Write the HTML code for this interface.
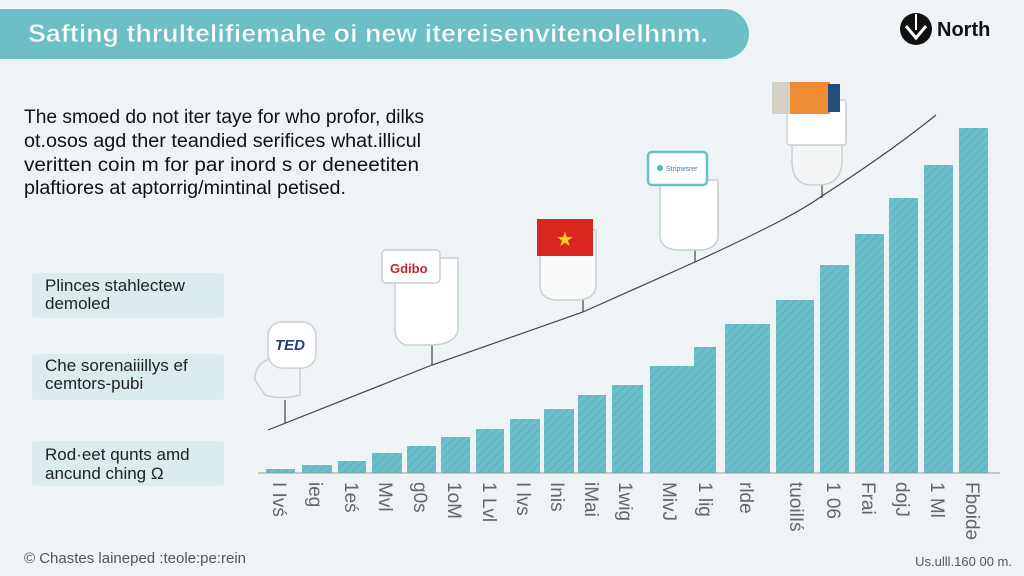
<!DOCTYPE html>
<html><head><meta charset="utf-8"><style>
html,body{margin:0;padding:0;}
body{width:1024px;height:576px;overflow:hidden;background:#eef4f5;font-family:"Liberation Sans",sans-serif;}
</style></head><body>
<svg width="1024" height="576" viewBox="0 0 1024 576" xmlns="http://www.w3.org/2000/svg" style="position:absolute;left:0;top:0">
<defs>
<pattern id="h" width="6" height="6" patternUnits="userSpaceOnUse" patternTransform="rotate(45)">
<rect width="6" height="6" fill="#6cc0ca"/><rect width="2" height="6" fill="#62b6c1"/>
</pattern>
</defs>
<rect width="1024" height="576" fill="#eef4f5"/>
<path d="M0 9 H724 A25 25 0 0 1 724 59 H0 Z" fill="#6cbfc7"/>
<text x="28" y="42" font-size="25" font-weight="bold" fill="#fbfdfd" textLength="680" lengthAdjust="spacingAndGlyphs" stroke="#6cbfc7" stroke-width="0.6">Safting thrultelifiemahe oi new itereisenvitenolelhnm.</text>
<circle cx="916" cy="29" r="16" fill="#111"/>
<path d="M906 26 L916 38 L926 26" stroke="#fff" stroke-width="3" fill="none"/>
<path d="M916 14 V30" stroke="#fff" stroke-width="2"/>
<text x="937" y="36" font-size="20" font-weight="bold" fill="#111">North</text>
<g font-size="19" fill="#111">
<text x="24" y="123" textLength="400" lengthAdjust="spacingAndGlyphs">The smoed do not iter taye for who profor, dilks</text>
<text x="24" y="147" textLength="397" lengthAdjust="spacingAndGlyphs">ot.osos agd ther teandied serifices what.illicul</text>
<text x="24" y="171" textLength="395" lengthAdjust="spacingAndGlyphs">veritten coin m for par inord s or deneetiten</text>
<text x="24" y="194" textLength="322" lengthAdjust="spacingAndGlyphs">plaftiores at aptorrig/mintinal petised.</text>
</g>
<rect x="32" y="273" width="192" height="45" rx="3" fill="#dcebed"/>
<rect x="32" y="354" width="192" height="46" rx="3" fill="#dcebed"/>
<rect x="32" y="441" width="192" height="45" rx="3" fill="#dcebed"/>
<g font-size="17" fill="#222">
<text x="45" y="291">Plinces stahlectew</text><text x="45" y="309">demoled</text>
<text x="45" y="371">Che sorenaiiillys ef</text><text x="45" y="389">cemtors-pubi</text>
<text x="45" y="460">Rod·eet qunts amd</text><text x="45" y="479">ancund ching Ω</text>
</g>
<text x="24" y="563" font-size="15" fill="#555">© Chastes laineped :teole:pe:rein</text>
<text x="1012" y="566" font-size="13" fill="#555" text-anchor="end">Us.ulll.160 00 m.</text>
<g fill="url(#h)">
<rect x="266" y="469" width="29" height="4"/>
<rect x="302" y="465" width="30" height="8"/>
<rect x="338" y="461" width="28" height="12"/>
<rect x="372" y="453" width="30" height="20"/>
<rect x="407" y="446" width="29" height="27"/>
<rect x="441" y="437" width="29" height="36"/>
<rect x="476" y="429" width="28" height="44"/>
<rect x="510" y="419" width="30" height="54"/>
<rect x="544" y="409" width="30" height="64"/>
<rect x="578" y="395" width="28" height="78"/>
<rect x="612" y="385" width="31" height="88"/>
<rect x="650" y="366" width="44" height="107"/>
<rect x="694" y="347" width="22" height="126"/>
<rect x="725" y="324" width="45" height="149"/>
<rect x="776" y="300" width="38" height="173"/>
<rect x="820" y="265" width="29" height="208"/>
<rect x="855" y="234" width="29" height="239"/>
<rect x="889" y="198" width="29" height="275"/>
<rect x="924" y="165" width="29" height="308"/>
<rect x="959" y="128" width="29" height="345"/>
</g>
<line x1="258" y1="473" x2="1000" y2="473" stroke="#999" stroke-width="1"/>
<g font-size="19" fill="#666">
<text transform="translate(273,482) rotate(90)">I Ivś</text>
<text transform="translate(309,482) rotate(90)">ieg</text>
<text transform="translate(345,482) rotate(90)">1eś</text>
<text transform="translate(379,482) rotate(90)">Mvl</text>
<text transform="translate(414,482) rotate(90)">g0s</text>
<text transform="translate(448,482) rotate(90)">1oM</text>
<text transform="translate(483,482) rotate(90)">1 Lvl</text>
<text transform="translate(517,482) rotate(90)">I lvs</text>
<text transform="translate(551,482) rotate(90)">Inis</text>
<text transform="translate(585,482) rotate(90)">iMai</text>
<text transform="translate(619,482) rotate(90)">1wig</text>
<text transform="translate(663,482) rotate(90)">MivJ</text>
<text transform="translate(699,482) rotate(90)">1 lig</text>
<text transform="translate(740,482) rotate(90)">rlde</text>
<text transform="translate(790,482) rotate(90)">tuoilIś</text>
<text transform="translate(827,482) rotate(90)">1 06</text>
<text transform="translate(862,482) rotate(90)">Frai</text>
<text transform="translate(896,482) rotate(90)">dojJ</text>
<text transform="translate(931,482) rotate(90)">1 Ml</text>
<text transform="translate(966,482) rotate(90)">Fboidə</text>
</g>
<path d="M268 430 L432 365 L583 312 L695 262 C760 232 800 212 822 196 C870 165 905 140 936 115" stroke="#444" stroke-width="1.2" fill="none"/>
<g stroke="#444" stroke-width="1.2">
<line x1="285" y1="400" x2="285" y2="423"/>
<line x1="432" y1="345" x2="432" y2="365"/>
<line x1="583" y1="300" x2="583" y2="312"/>
<line x1="695" y1="250" x2="695" y2="262"/>
<line x1="822" y1="185" x2="822" y2="198"/>
</g>
<g stroke="#c8d0d3" stroke-width="1.5">
<path d="M255 380 Q255 358 280 358 H300 V395 Q280 400 265 395 Z" fill="#f2f4f5"/>
<rect x="268" y="322" width="48" height="46" rx="14" fill="#fff"/>
<path d="M395 258 H458 V330 Q455 345 430 345 H405 Q395 340 395 330 Z" fill="#fff"/>
<rect x="382" y="250" width="58" height="33" rx="4" fill="#fff"/>
<path d="M540 230 H596 V285 Q596 300 575 300 H555 Q540 298 540 285 Z" fill="#f8f9f9"/>
<path d="M660 180 H718 V235 Q718 250 698 250 H680 Q660 250 660 235 Z" fill="#fff"/>
<path d="M792 145 H842 V160 Q842 185 818 185 H812 Q792 185 792 160 Z" fill="#f4f6f6"/>
<rect x="787" y="100" width="59" height="45" rx="3" fill="#fff"/>
</g>
<text x="275" y="350" font-size="15" font-weight="bold" font-style="italic" fill="#2a3a8a">TED</text>
<text x="390" y="273" font-size="13" font-weight="bold" fill="#c0282d">Gdibo</text>
<rect x="537" y="219" width="56" height="37" fill="#d9271f"/>
<text x="556" y="246" font-size="20" fill="#f7d028">★</text>
<rect x="648" y="152" width="59" height="33" rx="4" fill="#fff" stroke="#6cbfc7" stroke-width="2.5"/>
<circle cx="660" cy="168" r="3" fill="#4ab8c8"/>
<text x="666" y="171" font-size="7" fill="#4a7aa0">Stripwsrer</text>
<rect x="772" y="82" width="20" height="32" fill="#d5d0c5"/>
<rect x="790" y="82" width="40" height="32" fill="#ef8a35"/>
<rect x="828" y="84" width="12" height="28" fill="#1f4f7a"/>
</svg>
</body></html>
